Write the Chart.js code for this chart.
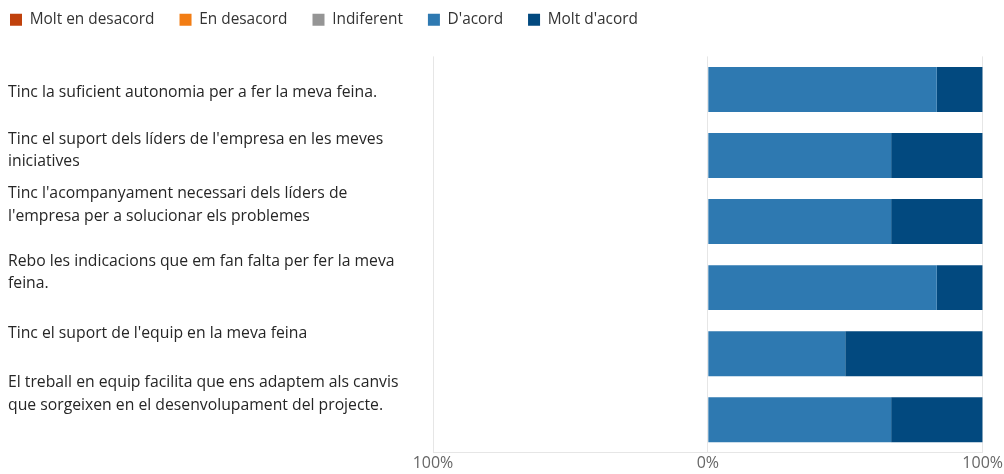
<!DOCTYPE html>
<html>
<head>
<meta charset="utf-8">
<script src="https://cdn.jsdelivr.net/npm/chart.js@4"></script>
<style>
  html, body { margin: 0; padding: 0; background: #fff; }
  #wrap { width: 1004px; height: 474px; }
</style>
</head>
<body>
<div id="wrap"><canvas id="likertChart"></canvas></div>
<script>
// Survey statements (wrapped as they are shown)
const statements = [
  ['Tinc la suficient autonomia per a fer la meva feina.'],
  ["Tinc el suport dels líders de l'empresa en les meves", 'iniciatives'],
  ["Tinc l'acompanyament necessari dels líders de", "l'empresa per a solucionar els problemes"],
  ['Rebo les indicacions que em fan falta per fer la meva', 'feina.'],
  ["Tinc el suport de l'equip en la meva feina"],
  ['El treball en equip facilita que ens adaptem als canvis', 'que sorgeixen en el desenvolupament del projecte.']
];

// Share of answers per statement (%)
const moltEnDesacord = [0, 0, 0, 0, 0, 0];
const enDesacord = [0, 0, 0, 0, 0, 0];
const indiferent = [0, 0, 0, 0, 0, 0];
const dAcord = [83.3, 66.7, 66.7, 83.3, 50, 66.7];
const moltDAcord = [16.7, 33.3, 33.3, 16.7, 50, 33.3];

const xTicks = [-100, 0, 100];

// where each statement text sits, in category units
const labelPos = [0.04, 0.92, 1.75, 2.77, 3.69, 4.61];

const colors = {
  moltEnDesacord: '#c0410c',
  enDesacord: '#f27d14',
  indiferent: '#959595',
  dAcord: '#2e79b1',
  moltDAcord: '#02497f'
};

const FONT = '"Open Sans", "Noto Sans", sans-serif';
const TEXT_SIZE = 15.75;

function bar(label, values, color, negative) {
  return {
    label: label,
    data: values.map(v => negative ? -v : v),
    backgroundColor: color,
    borderWidth: 0,
    barPercentage: 0.68,
    categoryPercentage: 1,
    stack: 'likert',
    yAxisID: 'y'
  };
}

// pull the legend up into the top-left corner without touching the plot area
const legendShift = {
  id: 'legendShift',
  afterLayout(chart) {
    const lg = chart.legend;
    if (!lg) return;
    lg.left -= 23;
    lg.right -= 23;
    lg.top -= 19;
    lg.bottom -= 19;
  }
};

const ctx = document.getElementById('likertChart').getContext('2d');
new Chart(ctx, {
  type: 'bar',
  data: {
    labels: statements.map(s => s.join(' ')),
    datasets: [
      bar('Molt en desacord', moltEnDesacord, colors.moltEnDesacord, true),
      bar('En desacord', enDesacord, colors.enDesacord, true),
      bar('Indiferent', indiferent, colors.indiferent, true),
      bar("D'acord", dAcord, colors.dAcord, false),
      bar("Molt d'acord", moltDAcord, colors.moltDAcord, false)
    ]
  },
  plugins: [legendShift],
  options: {
    indexAxis: 'y',
    responsive: true,
    maintainAspectRatio: false,
    animation: false,
    layout: { padding: { left: 8, right: 19, top: 6, bottom: 0 } },
    scales: {
      x: {
        stacked: true,
        min: -100,
        max: 100,
        afterBuildTicks: scale => { scale.ticks = xTicks.map(v => ({ value: v })); },
        ticks: {
          callback: v => Math.abs(v) + '%',
          color: '#666',
          font: { family: FONT, size: 16 },
          padding: 1,
          maxRotation: 0
        },
        grid: { color: '#e6e6e6', drawTicks: false },
        border: { color: '#e6e6e6' }
      },
      y: {
        stacked: true,
        display: false
      },
      yText: {
        type: 'linear',
        position: 'left',
        reverse: true,
        offset: false,
        bounds: 'data',
        min: -0.5,
        max: 5.5,
        afterBuildTicks: scale => {
          scale.min = -0.5;
          scale.max = 5.5;
          scale.ticks = labelPos.map(v => ({ value: v }));
        },
        afterFit: scale => { scale.width = 425; },
        ticks: {
          callback: (v, i) => statements[i],
          crossAlign: 'far',
          color: '#262626',
          font: { family: FONT, size: TEXT_SIZE, lineHeight: 1.42 },
          autoSkip: false
        },
        grid: { display: false, drawTicks: false, offset: false },
        border: { display: false }
      }
    },
    plugins: {
      legend: {
        position: 'top',
        align: 'start',
        labels: {
          boxWidth: 12,
          boxHeight: 12,
          padding: 25,
          color: '#333',
          font: { family: FONT, size: 15.4 }
        }
      },
      tooltip: { enabled: false }
    }
  }
});
</script>
</body>
</html>
